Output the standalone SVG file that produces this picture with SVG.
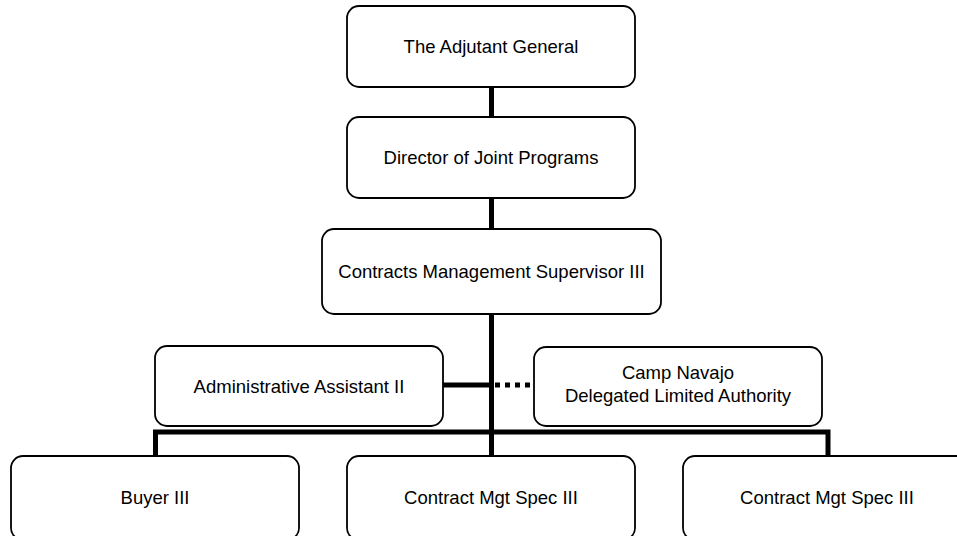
<svg xmlns="http://www.w3.org/2000/svg" width="957" height="536" viewBox="0 0 957 536">
<style>
.box{fill:#fff;stroke:#000;stroke-width:1.8}
.lbl{font-family:"Liberation Sans",Arial,sans-serif;font-size:18.5px;fill:#000;text-anchor:middle}
.con{fill:none;stroke:#000;stroke-width:5}
.dot{fill:none;stroke:#000;stroke-width:5;stroke-dasharray:5 5}
</style>
<rect width="957" height="536" fill="#fff"/>
<g id="connectors">
<path class="con" d="M491.5,87 V117"/>
<path class="con" d="M491.5,198 V229"/>
<path class="con" d="M491.5,314 V456"/>
<path class="con" d="M443,385 H491.5"/>
<path class="dot" d="M495,385 H534"/>
<path class="con" stroke-linejoin="miter" d="M155.5,456 V432 H828 V456"/>
</g>
<g id="n-adjutant"><rect class="box" x="347" y="6" width="288" height="81" rx="12"/><text class="lbl" x="491" y="53">The Adjutant General</text></g>
<g id="n-director"><rect class="box" x="347" y="117" width="288" height="81" rx="12"/><text class="lbl" x="491" y="164">Director of Joint Programs</text></g>
<g id="n-supervisor"><rect class="box" x="322" y="229" width="339" height="85" rx="12"/><text class="lbl" x="491.5" y="278">Contracts Management Supervisor III</text></g>
<g id="n-admin"><rect class="box" x="155" y="346" width="288" height="80" rx="12"/><text class="lbl" x="299" y="393">Administrative Assistant II</text></g>
<g id="n-camp"><rect class="box" x="534" y="347" width="288" height="79" rx="12"/><text class="lbl" x="678" y="379">Camp Navajo</text><text class="lbl" x="678" y="402">Delegated Limited Authority</text></g>
<g id="n-buyer"><rect class="box" x="11" y="456" width="288" height="84" rx="12"/><text class="lbl" x="155" y="504">Buyer III</text></g>
<g id="n-spec1"><rect class="box" x="347" y="456" width="288" height="84" rx="12"/><text class="lbl" x="491" y="504">Contract Mgt Spec III</text></g>
<g id="n-spec2"><rect class="box" x="683" y="456" width="288" height="84" rx="12"/><text class="lbl" x="827" y="504">Contract Mgt Spec III</text></g>
</svg>
